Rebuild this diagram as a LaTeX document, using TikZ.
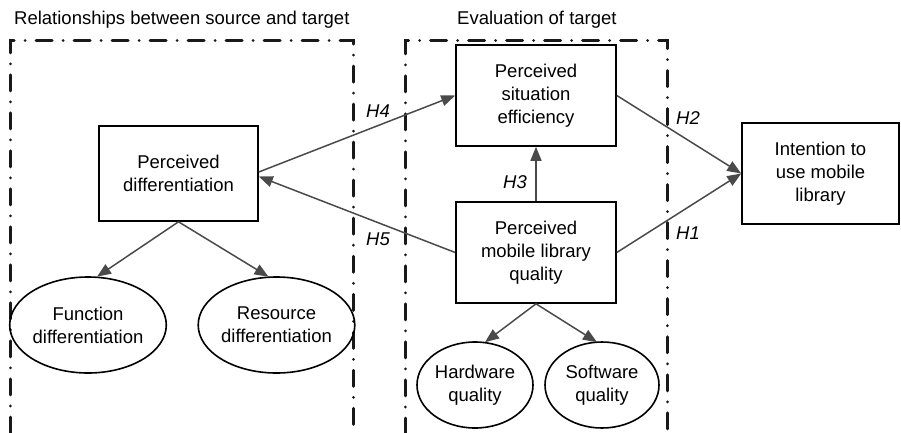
\documentclass[tikz,border=0pt]{standalone}
\usepackage{fontspec}
\setmainfont{Liberation Sans}
\usetikzlibrary{arrows.meta,shapes.geometric}
\definecolor{arrgray}{HTML}{4A4A4A}
\tikzset{
  x=1pt,y=-1pt,
  every node/.style={font=\fontsize{18.5}{23}\selectfont},
  boxnode/.style={draw=black,line width=1.6pt,rectangle,align=center,inner sep=0pt},
  ellnode/.style={draw=black,line width=1.6pt,ellipse,align=center,inner sep=0pt},
  conn/.style={draw=arrgray,line width=1.5pt,-{Triangle[length=14pt,width=11pt]}},
  frame/.style={draw=black!90,line width=3pt,line cap=round,dash pattern=on 16pt off 11pt on 0.01pt off 11pt},
  hlabel/.style={font=\fontsize{18.5}{23}\selectfont\itshape,inner sep=0pt},
}
\begin{document}
\begin{tikzpicture}
\useasboundingbox (0,0) rectangle (901,433);
% frames
\draw[frame] (10,433) -- (10,41) -- (353,41) -- (353,433);
\draw[frame] (405.5,434) -- (405.5,41) -- (667,41) -- (667,434) -- cycle;
% titles
\node[anchor=west,inner sep=0pt] (t1) at (14,20) {Relationships between source and target};
\node[anchor=west,inner sep=0pt] (t2) at (457,20) {Evaluation of target};
% boxes
\node[boxnode,minimum width=159pt,minimum height=95pt] (PD) at (178.5,173.5) {Perceived\\differentiation};
\node[boxnode,minimum width=160pt,minimum height=101pt] (PSE) at (536,95.5) {Perceived\\situation\\efficiency};
\node[boxnode,minimum width=160pt,minimum height=101pt] (PMLQ) at (536,252.5) {Perceived\\mobile library\\quality};
\node[boxnode,minimum width=157pt,minimum height=101pt] (INT) at (820.5,173.5) {Intention to\\use mobile\\library};
% ellipses
\node[ellnode,minimum width=150pt,minimum height=96pt] (FD) at (88,325) {Function\\differentiation};
\node[ellnode,minimum width=147pt,minimum height=96pt] (RD) at (276.5,325) {Resource\\differentiation};
\node[ellnode,minimum width=116pt,minimum height=86pt] (HQ) at (475,385) {Hardware\\quality};
\node[ellnode,minimum width=114pt,minimum height=86pt] (SQ) at (602,385) {Software\\quality};
% connectors
\draw[conn] ([yshift=1.5pt]PD.east) -- (PSE.west);
\draw[conn] (PMLQ.west) -- ([yshift=-3pt]PD.east);
\draw[conn] (PMLQ.north) -- (PSE.south);
\draw[conn] (PSE.east) -- (INT.west);
\draw[conn] (PMLQ.east) -- (INT.west);
\draw[conn] (PD.south) -- ([xshift=9pt,yshift=-0.5pt]FD.north);
\draw[conn] (PD.south) -- ([xshift=-8pt,yshift=-0.5pt]RD.north);
\draw[conn] (PMLQ.south) -- ([xshift=10pt,yshift=-1pt]HQ.north);
\draw[conn] (PMLQ.south) -- ([xshift=-5pt,yshift=-1pt]SQ.north);
% labels
\node[hlabel] (h4) at (378,111) {H4};
\node[hlabel] (h5) at (378,239) {H5};
\node[hlabel] (h3) at (515,182) {H3};
\node[hlabel] (h2) at (688,118) {H2};
\node[hlabel] (h1) at (688,233) {H1};
\end{tikzpicture}
\end{document}
